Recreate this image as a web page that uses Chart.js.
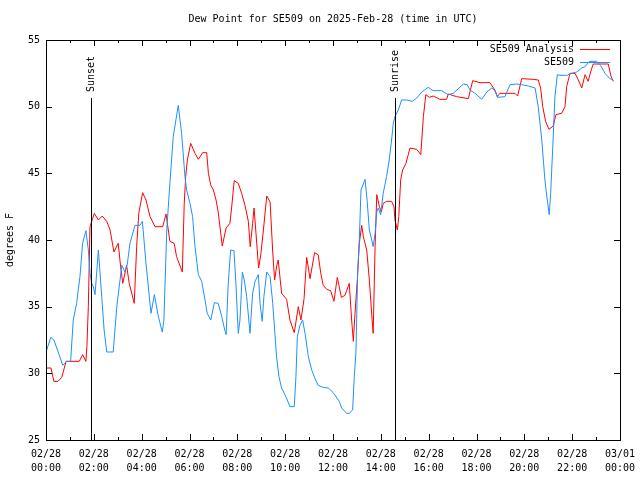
<!DOCTYPE html>
<html>
<head>
<meta charset="utf-8">
<script src="https://cdn.jsdelivr.net/npm/chart.js@4.4.1/dist/chart.umd.min.js"></script>
<style>
  html, body { margin: 0; padding: 0; background: #fff; }
</style>
</head>
<body>
<canvas id="chart" width="640" height="480"></canvas>
<script>
// hours after 2025-02-28 00:00 UTC, dew point in degrees F
const analysisHours = [0.00, 0.21, 0.33, 0.50, 0.66, 0.84, 1.39, 1.53, 1.67, 1.71, 1.77, 1.84, 2.02, 2.19, 2.35, 2.54, 2.68, 2.84,
  3.02, 3.12, 3.21, 3.37, 3.48, 3.69, 3.79, 3.88, 4.04, 4.18, 4.35, 4.56, 4.88, 5.02, 5.18, 5.36, 5.46, 5.70, 5.78, 5.84, 5.91,
  6.05, 6.23, 6.37, 6.55, 6.72, 6.79, 6.89, 7.00, 7.11, 7.20, 7.30, 7.37, 7.53, 7.69, 7.76, 7.87, 8.04, 8.18, 8.32, 8.46, 8.54,
  8.64, 8.70, 8.78, 8.89, 8.98, 9.09, 9.23, 9.37, 9.48, 9.56, 9.65, 9.71, 9.85, 10.06, 10.20, 10.38, 10.55, 10.66, 10.79, 10.90,
  11.04, 11.23, 11.38, 11.49, 11.59, 11.74, 11.90, 12.04, 12.18, 12.35, 12.50, 12.68, 12.78, 12.85, 12.92, 13.02, 13.10, 13.20,
  13.27, 13.41, 13.52, 13.62, 13.68, 13.76, 13.83, 13.94, 14.02, 14.10, 14.24, 14.45, 14.55, 14.59, 14.69, 14.75, 14.83, 14.91,
  15.05, 15.22, 15.50, 15.67, 15.78, 15.88, 16.03, 16.19, 16.47, 16.75, 16.82, 17.17, 17.66, 17.84, 18.15, 18.56, 18.77, 18.87,
  18.98, 19.61, 19.72, 19.89, 20.37, 20.58, 20.68, 20.77, 20.89, 21.03, 21.21, 21.32, 21.56, 21.70, 21.77, 21.91, 22.12, 22.26,
  22.40, 22.54, 22.67, 22.77, 22.88, 23.51, 23.62, 23.72]
const analysisDew = [30.4, 30.4, 29.4, 29.4, 29.7, 30.9, 30.9, 31.4, 30.9, 32.0, 35.0, 41.0, 42.0, 41.5, 41.8, 41.4, 40.75, 39.1,
  39.75, 38.0, 36.75, 38.1, 36.75, 35.25, 39.5, 42.0, 43.55, 43.0, 41.75, 41.0, 41.0, 41.95, 39.9, 39.75, 38.75, 37.6, 42.75, 44.75, 46.0,
  47.25, 46.5, 46.05, 46.55, 46.55, 45.0, 44.1, 43.75, 43.0, 42.1, 40.6, 39.55, 40.9, 41.25, 42.4, 44.45, 44.25, 43.5, 42.6, 41.4, 39.5,
  41.25, 42.4, 40.5, 37.9, 38.9, 40.75, 43.3, 42.85, 39.1, 37.0, 38.1, 38.5, 36.0, 35.55, 34.0, 33.05, 35.0, 34.0, 35.6, 38.7,
  37.1, 39.05, 38.9, 37.5, 36.6, 36.3, 36.2, 35.4, 37.2, 35.7, 35.85, 36.75, 34.0, 32.4, 34.5, 37.1, 39.75, 41.1,
  40.25, 39.25, 37.0, 34.4, 33.0, 39.5, 43.4, 42.5, 42.1, 42.75, 42.9, 42.9, 42.5, 41.5, 40.75, 41.75, 44.5, 45.25,
  45.75, 46.9, 46.8, 46.4, 49.25, 50.9, 50.7, 50.8, 50.55, 50.55, 50.95, 50.75, 50.6, 51.95, 51.8, 51.8, 51.25, 50.75,
  51.0, 51.0, 50.8, 52.1, 52.05, 52.0, 51.4, 50.0, 48.9, 48.3, 48.55, 49.4, 49.5, 50.0, 51.5, 52.5, 52.5, 52.0,
  51.4, 52.4, 51.9, 52.6, 53.2, 53.2, 52.3, 51.9]

const stationHours = [0.03, 0.20, 0.33, 0.51, 0.70, 0.87, 1.03, 1.14, 1.28, 1.42, 1.53, 1.67, 1.77, 1.84, 1.91, 1.98, 2.05, 2.19,
  2.33, 2.43, 2.54, 2.81, 2.96, 3.17, 3.30, 3.40, 3.51, 3.72, 3.93, 4.03, 4.18, 4.32, 4.39, 4.53, 4.70, 4.86, 4.93, 5.05, 5.18,
  5.32, 5.53, 5.67, 5.81, 5.88, 6.02, 6.13, 6.23, 6.37, 6.51, 6.65, 6.74, 6.89, 7.04, 7.20, 7.35, 7.44, 7.53, 7.62, 7.72, 7.86,
  7.94, 8.04, 8.11, 8.21, 8.29, 8.39, 8.53, 8.64, 8.74, 8.88, 8.95, 9.04, 9.11, 9.23, 9.37, 9.48, 9.57, 9.64, 9.74, 9.85, 9.99,
  10.09, 10.20, 10.38, 10.45, 10.51, 10.62, 10.73, 10.83, 10.97, 11.11, 11.25, 11.38, 11.59, 11.80, 12.01, 12.26, 12.36, 12.57,
  12.68, 12.82, 12.89, 12.96, 13.03, 13.10, 13.17, 13.34, 13.43, 13.52, 13.62, 13.68, 13.76, 13.83, 13.89, 13.99, 14.10, 14.24,
  14.35, 14.45, 14.52, 14.59, 14.73, 14.87, 15.08, 15.32, 15.50, 15.71, 15.98, 16.19, 16.54, 16.82, 17.03, 17.45, 17.61, 17.73,
  17.94, 18.22, 18.43, 18.64, 18.77, 18.88, 19.19, 19.40, 19.68, 19.89, 20.17, 20.45, 20.58, 20.73, 20.86, 20.96, 21.04, 21.10,
  21.19, 21.28, 21.38, 21.49, 21.77, 21.98, 22.19, 22.40, 22.54, 22.72, 23.02, 23.19, 23.37, 23.58, 23.72]
const stationDew = [31.75, 32.7, 32.5, 31.6, 30.6, 30.9, 30.9, 34.0, 35.25, 37.25, 39.75, 40.7, 39.25, 37.5, 36.75, 36.5, 35.9, 39.25,
  35.75, 33.25, 31.6, 31.6, 35.0, 38.1, 37.6, 38.2, 39.75, 41.1, 41.1, 41.4, 38.25, 35.75, 34.5, 35.9, 34.25, 33.1, 34.0, 40.75, 44.25,
  47.75, 50.1, 48.0, 44.75, 43.75, 42.75, 41.75, 39.5, 37.4, 36.9, 35.5, 34.5, 34.0, 35.3, 35.25, 34.25, 33.5, 32.9, 36.75, 39.25, 39.2,
  36.75, 33.0, 34.0, 37.6, 37.0, 35.75, 33.0, 36.0, 36.9, 37.4, 35.25, 33.9, 35.75, 37.6, 37.25, 35.25, 33.0, 31.25, 29.75, 28.9, 28.4,
  28.0, 27.5, 27.5, 29.75, 32.75, 33.6, 34.0, 33.0, 31.25, 30.25, 29.6, 29.1, 28.95, 28.9, 28.55, 27.9, 27.4, 27.0,
  27.0, 27.25, 29.75, 31.6, 37.5, 40.0, 43.75, 44.55, 42.9, 40.75, 40.0, 39.5, 40.5, 42.1, 42.4, 41.9, 43.5, 44.75,
  46.0, 47.5, 48.75, 49.25, 49.75, 50.5, 50.5, 50.4, 50.65, 51.1, 51.45, 51.2, 51.2, 50.9, 51.0, 51.7, 51.65, 51.25,
  51.0, 50.55, 51.1, 51.4, 51.2, 50.7, 50.75, 51.65, 51.7, 51.65, 51.55, 51.4, 50.0, 47.5, 44.5, 43.0, 41.9, 43.5,
  47.0, 50.75, 52.4, 52.35, 52.35, 52.5, 52.6, 52.9, 53.0, 53.4, 53.4, 53.1, 52.5, 52.1, 52.0]

const xTickLabels = [['02/28', '00:00'], ['02/28', '02:00'], ['02/28', '04:00'], ['02/28', '06:00'], ['02/28', '08:00'],
  ['02/28', '10:00'], ['02/28', '12:00'], ['02/28', '14:00'], ['02/28', '16:00'], ['02/28', '18:00'], ['02/28', '20:00'],
  ['02/28', '22:00'], ['03/01', '00:00']]

const eventLabels = ['Sunset', 'Sunrise']
const eventHours = [1.88, 14.59]

const FONT = 'DejaVu Sans Mono'
Chart.defaults.color = '#000'
Chart.defaults.font.family = FONT
Chart.defaults.font.size = 10

const toPoints = (xs, ys) => xs.map((x, i) => ({ x, y: ys[i] }))

// gnuplot style frame: border, inward ticks on all sides, sun events, legend
const framePlugin = {
  id: 'frame',
  afterDatasetsDraw(chart) {
    const { ctx, chartArea: a, scales: { x, y } } = chart
    ctx.save()
    ctx.strokeStyle = '#000'
    ctx.lineWidth = 1
    ctx.beginPath()
    for (let h = x.min; h <= x.max; h++) {
      const px = Math.round(x.getPixelForValue(h)) + 0.5
      const len = h % 2 ? 3 : 6
      ctx.moveTo(px, a.bottom); ctx.lineTo(px, a.bottom - len)
      ctx.moveTo(px, a.top); ctx.lineTo(px, a.top + len)
    }
    for (let v = y.min; v <= y.max; v += 5) {
      const py = Math.round(y.getPixelForValue(v)) + 0.5
      ctx.moveTo(a.left, py); ctx.lineTo(a.left + 6, py)
      ctx.moveTo(a.right, py); ctx.lineTo(a.right - 6, py)
    }
    ctx.stroke()
    ctx.strokeRect(a.left + 0.5, a.top + 0.5, a.right - a.left, a.bottom - a.top)

    // sunset / sunrise markers
    ctx.font = `10px ${FONT}`
    ctx.fillStyle = '#000'
    eventHours.forEach((h, i) => {
      const px = Math.round(x.getPixelForValue(h)) + 0.5
      ctx.beginPath()
      ctx.moveTo(px, a.top + 58); ctx.lineTo(px, a.bottom)
      ctx.stroke()
      ctx.save()
      ctx.translate(px, a.top + 52)
      ctx.rotate(-Math.PI / 2)
      ctx.textAlign = 'left'
      ctx.textBaseline = 'middle'
      ctx.fillText(eventLabels[i], 0, 0)
      ctx.restore()
    })

    // legend, top right inside the frame
    chart.data.datasets.forEach((ds, i) => {
      const ly = a.top + 9.5 + 13 * i
      ctx.textAlign = 'right'
      ctx.textBaseline = 'middle'
      ctx.fillText(ds.label, a.right - 46, ly)
      ctx.strokeStyle = ds.borderColor
      ctx.beginPath()
      ctx.moveTo(a.right - 40, Math.round(ly) - 0.5)
      ctx.lineTo(a.right - 10, Math.round(ly) - 0.5)
      ctx.stroke()
    })
    ctx.restore()
  }
}

new Chart(document.getElementById('chart'), {
  type: 'line',
  data: {
    datasets: [
      { label: 'SE509 Analysis', data: toPoints(analysisHours, analysisDew), borderColor: '#ff0000', borderWidth: 1, pointRadius: 0, tension: 0, order: 1 },
      { label: 'SE509', data: toPoints(stationHours, stationDew), borderColor: '#1e90ff', borderWidth: 1, pointRadius: 0, tension: 0, order: 0 }
    ]
  },
  options: {
    responsive: false,
    animation: false,
    layout: { padding: { left: 0, right: 20, top: 0, bottom: 0 } },
    plugins: {
      legend: { display: false },
      tooltip: { enabled: false },
      title: {
        display: true,
        fullSize: false,
        text: 'Dew Point for SE509 on 2025-Feb-28 (time in UTC)',
        font: { family: FONT, size: 10, weight: 'normal', lineHeight: 1.2 },
        padding: { top: 13, bottom: 15 }
      }
    },
    scales: {
      x: {
        type: 'linear',
        min: 0, max: 24,
        grid: { display: false, drawTicks: false },
        border: { display: false },
        ticks: {
          stepSize: 2, autoSkip: false, maxRotation: 0, padding: 7,
          font: { family: FONT, size: 10, lineHeight: 1.4 },
          callback: v => xTickLabels[v / 2]
        },
        afterFit: s => { s.height = 40; s.paddingLeft = 0; s.paddingRight = 0 }
      },
      y: {
        min: 25, max: 55,
        grid: { display: false, drawTicks: false },
        border: { display: false },
        ticks: { stepSize: 5, padding: 6, font: { family: FONT, size: 10 } },
        title: { display: true, text: 'degrees F', padding: { top: 4, bottom: 0 }, font: { family: FONT, size: 10, lineHeight: 1.2 } },
        afterFit: s => { s.width = 46 }
      }
    }
  },
  plugins: [framePlugin]
})
</script>
</body>
</html>
